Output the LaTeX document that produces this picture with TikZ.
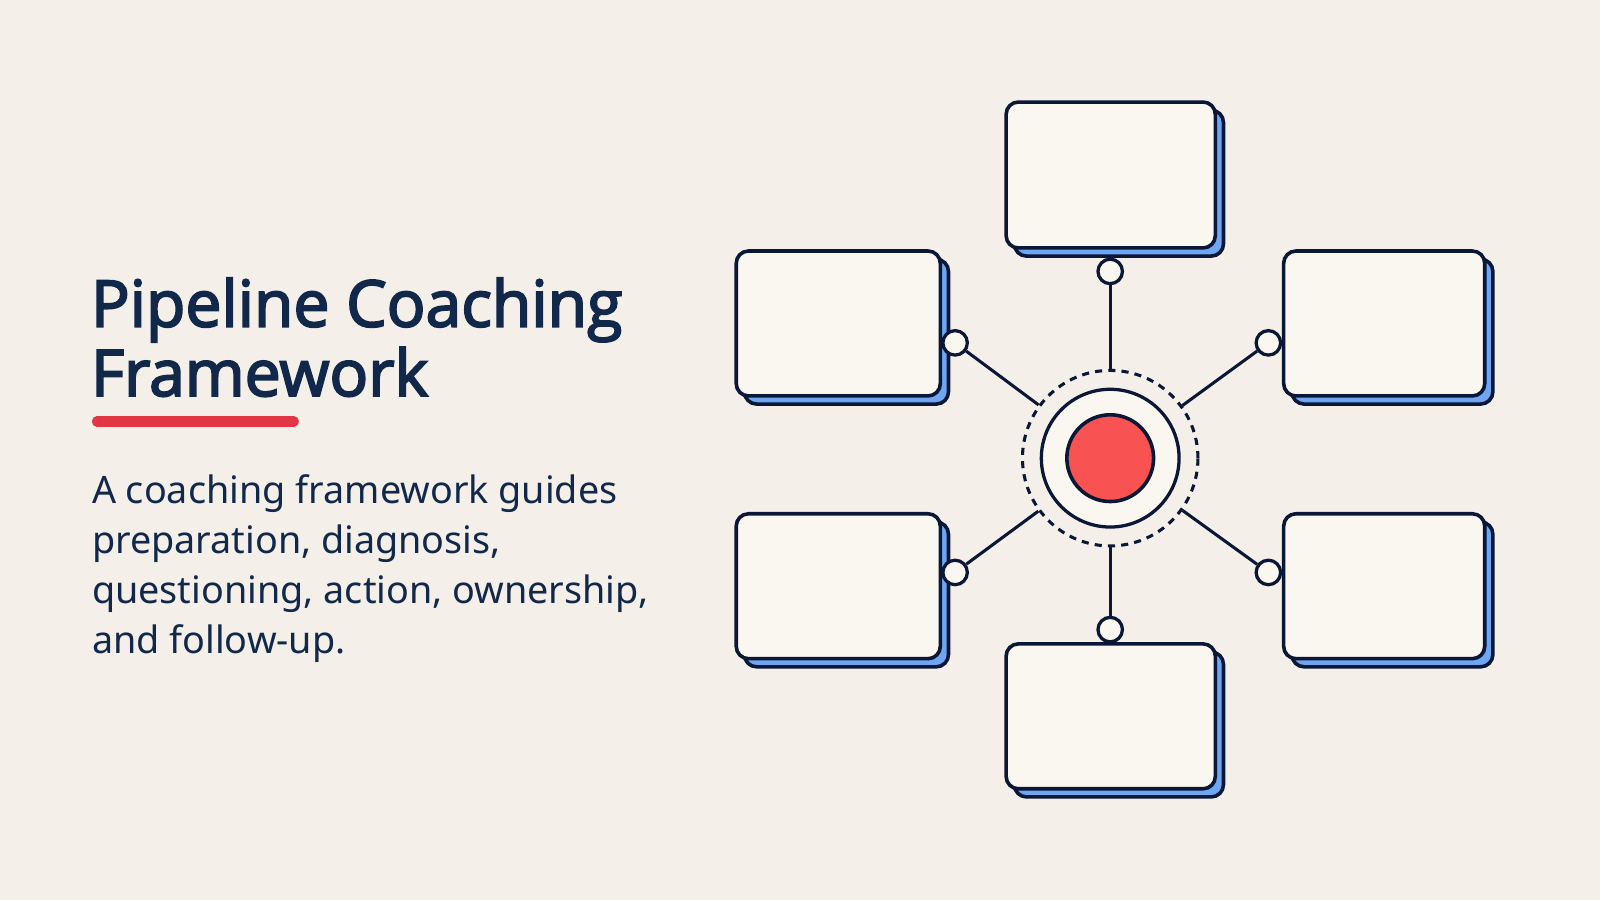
\documentclass[tikz,border=0pt]{standalone}
\usepackage{fontspec}
\setmainfont{Noto Sans}
\newfontfamily\titlefont{Open Sans}[FakeBold=3]
\usepackage{xcolor}
\usepackage{tikz}

\definecolor{paper}{HTML}{F4F0E9}
\definecolor{cardfill}{HTML}{FAF6F0}
\definecolor{ink}{HTML}{0B1736}
\definecolor{titleink}{HTML}{11284A}
\definecolor{shadowblue}{HTML}{6EA6F2}
\definecolor{hubred}{HTML}{F85252}
\definecolor{accentred}{HTML}{E23645}

\tikzset{
  card/.style={draw=ink, fill=cardfill, line width=3.5, rounded corners=12,
    minimum width=200, minimum height=142, inner sep=0},
  cardshadow/.style={card, fill=shadowblue},
  pin/.style={circle, draw=ink, fill=cardfill, line width=3.2, minimum size=24, inner sep=0},
  spoke/.style={draw=ink, line width=3}
}

\begin{document}
\begin{tikzpicture}[x=1pt,y=1pt]
  \fill[paper] (0,0) rectangle (1568,-882);
  \useasboundingbox (0,0) rectangle (1568,-882);

  % title and text
  \node[anchor=north west, align=left, inner sep=0, text=titleink,
    font=\titlefont\fontsize{63}{68}\selectfont] (title) at (89,-272)
    {Pipeline Coaching\\Framework};
  \draw[accentred, line width=10, line cap=round] (95,-413) -- (288,-413);
  \node[anchor=north west, align=left, inner sep=0, text=titleink,
    font=\fontsize{37}{49}\selectfont] (blurb) at (90,-465)
    {A coaching framework guides\\preparation, diagnosis,\\questioning, action, ownership,\\and follow-up.};

  % hub
  \node[circle, draw=ink, line width=3, dashed, dash pattern=on 7 off 6,
    minimum size=172, inner sep=0] (ring) at (1088,-449) {};
  \node[circle, draw=ink, fill=cardfill, line width=3.2, minimum size=135, inner sep=0] (disc) at (1088,-449) {};
  \node[circle, draw=ink, fill=hubred, line width=3.5, minimum size=85, inner sep=0] (core) at (1088,-449) {};

  % shadows
  \node[cardshadow, minimum width=205, minimum height=143] at (1096.5,-179.5) {};
  \node[cardshadow] at (829.5,-325) {};
  \node[cardshadow, minimum width=197] at (1364.5,-325) {};
  \node[cardshadow] at (829.5,-582.5) {};
  \node[cardshadow, minimum width=197] at (1364.5,-582.5) {};
  \node[cardshadow, minimum width=205] at (1096.5,-710) {};

  % cards
  \node[card, minimum width=205, minimum height=143] (top) at (1088.5,-171.5) {};
  \node[card] (topleft) at (821.5,-317) {};
  \node[card, minimum width=197] (topright) at (1356.5,-317) {};
  \node[card] (botleft) at (821.5,-574.5) {};
  \node[card, minimum width=197] (botright) at (1356.5,-574.5) {};
  \node[card, minimum width=205] (bottom) at (1088.5,-702) {};

  % pins
  \node[pin] (ptop) at (1088,-266) {};
  \node[pin] (ptl) at (936,-336) {};
  \node[pin] (ptr) at (1243,-336) {};
  \node[pin] (pbl) at (936,-561) {};
  \node[pin] (pbr) at (1243,-561) {};
  \node[pin] (pbot) at (1088,-617) {};

  % spokes
  \draw[spoke] (ptop) -- (ring);
  \draw[spoke] (ptl) -- (ring);
  \draw[spoke] (ptr) -- (ring);
  \draw[spoke] (pbl) -- (ring);
  \draw[spoke] (pbr) -- (ring);
  \draw[spoke] (pbot) -- (ring);
\end{tikzpicture}
\end{document}
